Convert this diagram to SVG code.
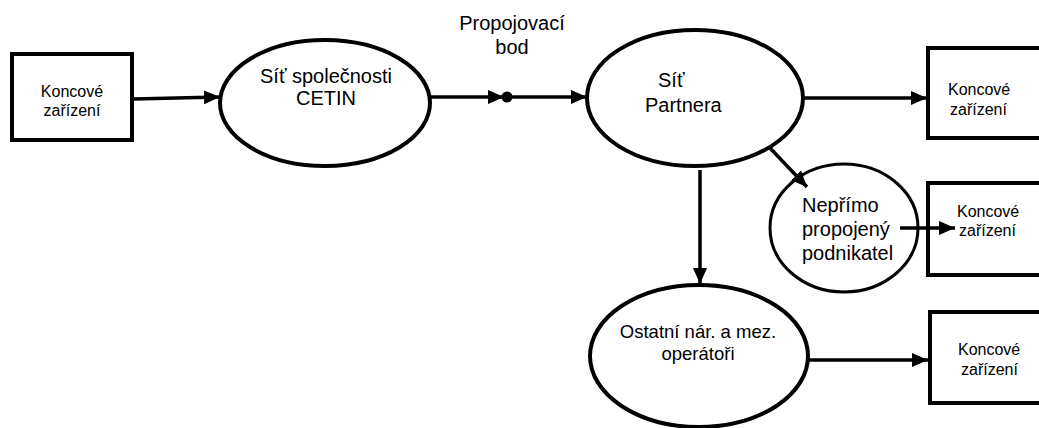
<svg xmlns="http://www.w3.org/2000/svg" width="1039" height="428" viewBox="0 0 1039 428">
<style>
.box{fill:#fff;stroke:#000;stroke-width:4}
.ell{fill:#fff;stroke:#000;stroke-width:4}
.circ{fill:#fff;stroke:#000;stroke-width:3}
.con{stroke:#000;stroke-width:3.5;fill:none}
text{font-family:"Liberation Sans",Arial,sans-serif;fill:#000}
.bt{font-size:16px}
.et{font-size:20px;text-anchor:middle}
</style>
<defs>
<marker id="ah" markerUnits="userSpaceOnUse" markerWidth="18" markerHeight="16" refX="16" refY="8" orient="auto">
<path d="M0,1 L16,8 L0,15 Z" fill="#000"/>
</marker>
</defs>
<rect width="1039" height="428" fill="#fff"/>
<g id="box1">
<rect class="box" x="12" y="54" width="120" height="86"/>
<text class="bt" x="72" y="97" text-anchor="middle">Koncové</text>
<text class="bt" x="72" y="116" text-anchor="middle">zařízení</text>
</g>
<g id="cetin">
<ellipse class="ell" cx="325" cy="103" rx="105" ry="63"/>
<text class="et" x="326" y="83">Síť společnosti</text>
<text class="et" x="326" y="105">CETIN</text>
</g>
<g id="propojovaci-bod">
<text class="et" x="512" y="30">Propojovací</text>
<text class="et" x="512" y="54">bod</text>
</g>
<g id="partner">
<ellipse class="ell" cx="695" cy="98" rx="108" ry="68"/>
<text x="658" y="87" font-size="20">Síť</text>
<text x="645" y="112" font-size="20">Partnera</text>
</g>
<g id="box3">
<rect class="box" x="928" y="48" width="120" height="90"/>
<text class="bt" x="948" y="95">Koncové</text>
<text class="bt" x="950" y="115">zařízení</text>
</g>
<g id="neprimo">
<ellipse class="circ" cx="844" cy="228" rx="74" ry="64"/>
<text x="802" y="212" font-size="20">Nepřímo</text>
<text x="802" y="236" font-size="20">propojený</text>
<text x="802" y="260" font-size="20">podnikatel</text>
</g>
<g id="box4">
<rect class="box" x="928" y="183" width="120" height="92"/>
<text class="bt" x="957" y="217">Koncové</text>
<text class="bt" x="959" y="236">zařízení</text>
</g>
<g id="ostatni">
<ellipse class="ell" cx="699" cy="356" rx="109" ry="71"/>
<text x="698" y="338" font-size="18.5" text-anchor="middle">Ostatní nár. a mez.</text>
<text x="698" y="360" font-size="18.5" text-anchor="middle">operátoři</text>
</g>
<g id="box5">
<rect class="box" x="930" y="312" width="120" height="91"/>
<text class="bt" x="958" y="355">Koncové</text>
<text class="bt" x="961" y="375">zařízení</text>
</g>
<g id="connectors">
<line class="con" x1="133" y1="99" x2="220" y2="97" marker-end="url(#ah)"/>
<line class="con" x1="430" y1="97" x2="504" y2="97" marker-end="url(#ah)"/>
<circle cx="507" cy="97" r="5.5" fill="#000"/>
<line class="con" x1="507" y1="97" x2="587" y2="97" marker-end="url(#ah)"/>
<line class="con" x1="803" y1="98" x2="927" y2="98" marker-end="url(#ah)"/>
<line class="con" x1="770" y1="148" x2="807" y2="187" marker-end="url(#ah)"/>
<line class="con" x1="700" y1="170" x2="700" y2="284" marker-end="url(#ah)"/>
<line class="con" x1="808" y1="360" x2="928" y2="360" marker-end="url(#ah)"/>
<line class="con" x1="900" y1="228" x2="955" y2="228" marker-end="url(#ah)"/>
</g>
</svg>
